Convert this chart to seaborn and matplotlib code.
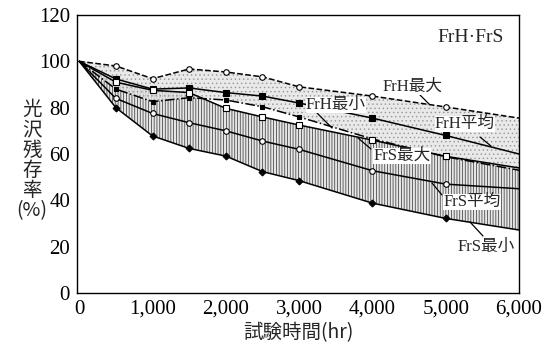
"""
光沢残存率の経時変化 (FrH・FrS)
"""

import numpy as np
import pandas as pd
import matplotlib
matplotlib.use("Agg")
import matplotlib.pyplot as plt
import seaborn as sns

# 試験時間 (hr)
hours = [0, 500, 1000, 1500, 2000, 2500, 3000, 4000, 5000, 6000]

# 光沢残存率 (%)
frh_max = [100, 98.0, 92.5, 96.7, 95.4, 93.3, 89.0, 85.0, 80.3, 75.5]
frh_avg = [100, 92.4, 88.0, 88.5, 86.5, 85.0, 82.0, 75.5, 68.0, 60.0]
frh_min = [100, 88.0, 82.6, 84.3, 83.3, 80.4, 76.0, 66.5, 58.8, 53.0]
frs_max = [100, 91.0, 87.5, 86.5, 79.7, 76.0, 72.5, 66.0, 59.0, 54.0]
frs_avg = [100, 84.0, 77.5, 73.5, 70.0, 65.6, 62.0, 52.8, 47.0, 45.0]
frs_min = [100, 80.0, 67.8, 62.4, 59.1, 52.4, 48.5, 38.8, 32.2, 27.2]

x_ticks = [0, 1000, 2000, 3000, 4000, 5000, 6000]
x_ticklabels = ["0", "1,000", "2,000", "3,000", "4,000", "5,000", "6,000"]
y_ticks = [0, 20, 40, 60, 80, 100, 120]

SERIF = ["Liberation Serif", "Noto Sans CJK JP", "DejaVu Sans"]
CJK = ["Noto Sans CJK JP", "DejaVu Sans"]


def main():
    sns.set_theme(style="white")
    plt.rcParams["font.family"] = SERIF
    plt.rcParams["hatch.linewidth"] = 0.55

    df = pd.DataFrame({"hours": hours,
                       "frh_max": frh_max, "frh_avg": frh_avg, "frh_min": frh_min,
                       "frs_max": frs_max, "frs_avg": frs_avg, "frs_min": frs_min})

    fig = plt.figure(figsize=(5.47, 3.51), dpi=100)
    ax = fig.add_axes([0.1408, 0.1652, 0.808, 0.7921])

    # 塗り (FrS: 縦線, FrH: 点描)
    ax.fill_between(df["hours"], df["frs_min"], df["frs_max"],
                    facecolor="#e6e6e6", edgecolor="0.25", hatch="|" * 6,
                    linewidth=0, zorder=1)
    ax.fill_between(df["hours"], df["frh_min"], df["frh_max"],
                    facecolor="#e4e4e4", edgecolor="0.55", hatch="....",
                    linewidth=0, alpha=0.8, zorder=1.5)

    mk = list(range(1, len(hours) - 1))
    styles = {
        "frh_max": dict(linestyle="--", marker="o", markerfacecolor="white"),
        "frh_avg": dict(linestyle="-", marker="s", markerfacecolor="black"),
        "frh_min": dict(linestyle="-.", marker="s", markerfacecolor="black", markersize=3.5),
        "frs_max": dict(linestyle="-", marker="s", markerfacecolor="white"),
        "frs_avg": dict(linestyle="-", marker="o", markerfacecolor="white"),
        "frs_min": dict(linestyle="-", marker="D", markerfacecolor="black", markersize=3.5),
    }
    for col, st in styles.items():
        opts = dict(markersize=4, markeredgecolor="black", markeredgewidth=0.8)
        opts.update(st)
        sns.lineplot(data=df, x="hours", y=col, ax=ax, color="black",
                     linewidth=1.1, markevery=mk, zorder=3, **opts)

    # ラベルと引出線
    labels = [
        ("FrH最大", (413, 87), ((420, 95), (429, 104))),
        ("FrH最小", (336, 105), ((317, 113), (332, 128))),
        ("FrH平均", (465, 124), ((480, 137), (491, 146))),
        ("FrS最大", (402, 156), ((358, 138), (371, 149))),
        ("FrS平均", (472, 202), ((432, 183), (442, 195))),
        ("FrS最小", (486, 247), ((470, 222), (483, 236))),
    ]
    W, H = 547, 351
    for text, (tx, ty), ((x1, y1), (x2, y2)) in labels:
        fig.text(tx / W, 1 - ty / H, text, ha="center", va="center",
                 fontsize=12, family=SERIF, zorder=5,
                 bbox=dict(facecolor="white", edgecolor="none", pad=0.3))
        fig.add_artist(plt.Line2D([x1 / W, x2 / W], [1 - y1 / H, 1 - y2 / H],
                                  color="black", linewidth=0.9))
    fig.text(471 / W, 1 - 38 / H, "FrH·FrS", ha="center", va="center",
             fontsize=14, family=SERIF)

    ax.set_xlim(-30, 6000)
    ax.set_ylim(0, 120)
    ax.set_xticks(x_ticks)
    ax.set_xticklabels(x_ticklabels)
    ax.set_yticks(y_ticks)
    ax.tick_params(axis="both", length=0, labelsize=15, colors="black")
    ax.tick_params(axis="x", pad=5)
    ax.tick_params(axis="y", pad=5)
    for lbl in ax.get_xticklabels() + ax.get_yticklabels():
        lbl.set_fontfamily(SERIF)
    for sp in ax.spines.values():
        sp.set_visible(True)
        sp.set_color("black")
        sp.set_linewidth(1.0)

    ax.set_xlabel("試験時間(hr)", fontsize=14, family=CJK, labelpad=2)
    ax.set_ylabel("")
    fig.text(32 / W, 1 - 160 / H, "光\n沢\n残\n存\n率\n(%)", ha="center",
             va="center", fontsize=14, family=CJK, linespacing=0.95)

    fig.savefig("out.png", dpi=100)
    plt.close(fig)


if __name__ == "__main__":
    main()
